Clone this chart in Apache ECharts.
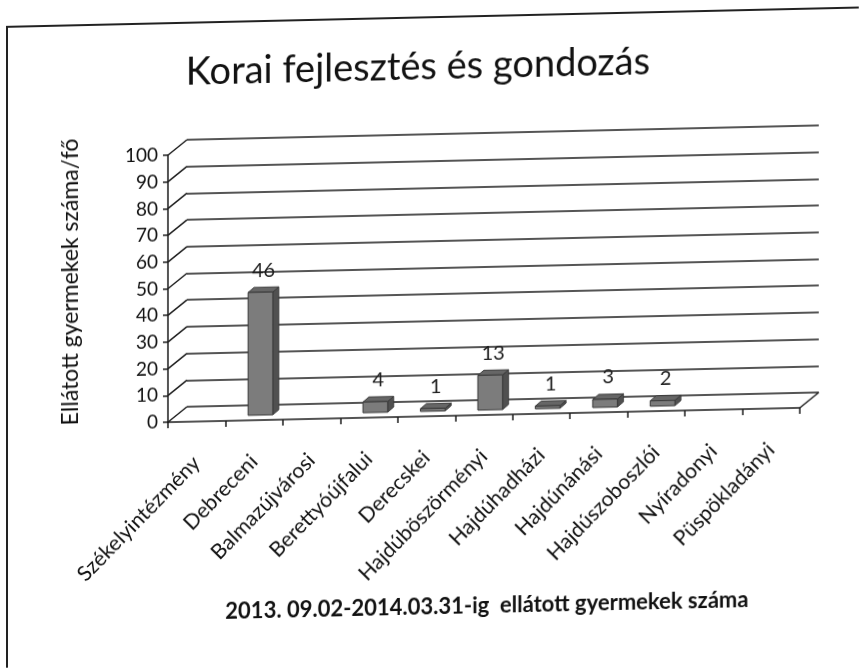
<!DOCTYPE html>
<html>
<head>
<meta charset="utf-8">
<script src="https://cdn.jsdelivr.net/npm/echarts@6/dist/echarts.min.js"></script>
<style>
  html, body { margin: 0; padding: 0; background: #fff; overflow: hidden; }
  #chart {
    width: 859px; height: 668px;
    transform: skewY(-1.3deg);
    transform-origin: 0 0;
  }
</style>
</head>
<body>
<div id="chart"></div>
<script>
// Categories (service units) and number of children served
const categories = [
  'Székelyintézmény', 'Debreceni', 'Balmazújvárosi', 'Berettyóújfalui',
  'Derecskei', 'Hajdúböszörményi', 'Hajdúhadházi', 'Hajdúnánási',
  'Hajdúszoboszlói', 'Nyíradonyi', 'Püspökladányi'
];
const children = [null, 46, null, 4, 1, 13, 1, 3, 2, null, null];
const yTicks = [0, 10, 20, 30, 40, 50, 60, 70, 80, 90, 100];

const titleText = 'Korai fejlesztés és gondozás';
const subtitleText = '2013. 09.02-2014.03.31-ig  ellátott gyermekek száma';
const yName = 'Ellátott gyermekek száma/fő';

const FONT = 'Lato, "Open Sans", sans-serif';
const INK = '#1c1c1c';

// depth of the 3D floor / back wall
const WALL_DX = 19, WALL_DY = -15;

const chart = echarts.init(document.getElementById('chart'), null, { renderer: 'canvas' });

function renderBar(params, api) {
  const idx = api.value(0);
  const v = api.value(1);
  if (v == null || isNaN(v)) return null;
  const base = api.coord([idx, 0]);
  const top = api.coord([idx, v]);
  const band = api.size([1, 0])[0];
  const w = band * 0.43;
  // the column stands a third of the way into the floor
  const ox = WALL_DX / 3, oy = WALL_DY / 3;
  const dx = 6, dy = -5;
  const x0 = base[0] - w / 2 + ox, x1 = x0 + w;
  const yb = base[1] + oy, yt = top[1] + oy;
  const stroke = '#3a3a3a';
  return {
    type: 'group',
    children: [
      { type: 'polygon', shape: { points: [[x1, yt], [x1 + dx, yt + dy], [x1 + dx, yb + dy], [x1, yb]] },
        style: { fill: '#505050', stroke: stroke, lineWidth: 1 } },
      { type: 'polygon', shape: { points: [[x0, yt], [x0 + dx, yt + dy], [x1 + dx, yt + dy], [x1, yt]] },
        style: { fill: '#666', stroke: stroke, lineWidth: 1 } },
      { type: 'rect', shape: { x: x0, y: yt, width: w, height: yb - yt },
        style: { fill: '#7c7c7c', stroke: stroke, lineWidth: 1 } },
      { type: 'text', x: (x0 + x1) / 2 + dx / 2, y: yt + dy - 7,
        style: { text: String(v), align: 'center', verticalAlign: 'bottom',
                 font: '20px ' + FONT, fill: INK } }
    ]
  };
}

// diagonal edges joining the front axis to the back wall
function renderEdges(params, api) {
  const v = api.value(0);
  const band = api.size([1, 0])[0];
  const p = api.coord([0, v]);
  const left = p[0] - band / 2;
  const children = [
    { type: 'line', shape: { x1: left, y1: p[1], x2: left + WALL_DX, y2: p[1] + WALL_DY },
      style: { stroke: INK, lineWidth: 1.5 } }
  ];
  if (v === 0) {
    const r = api.coord([categories.length - 1, 0])[0] + band / 2;
    children.push({ type: 'line', shape: { x1: r, y1: p[1], x2: r + WALL_DX, y2: p[1] + WALL_DY },
      style: { stroke: INK, lineWidth: 1.5 } });
  }
  return { type: 'group', children };
}

const frontGrid = { left: 168, right: 59, top: 159, bottom: 242 };
const backGrid = {
  left: frontGrid.left + WALL_DX, right: frontGrid.right - WALL_DX,
  top: frontGrid.top + WALL_DY, bottom: frontGrid.bottom - WALL_DY
};

chart.setOption({
  animation: false,
  backgroundColor: '#fff',
  title: [
    { text: titleText, left: 413, top: 53, textAlign: 'center',
      textStyle: { fontFamily: FONT, fontSize: 38, fontWeight: 'normal', color: '#111' } },
    { text: subtitleText, left: 482, top: 601, textAlign: 'center',
      textStyle: { fontFamily: FONT, fontSize: 22, fontWeight: 'bold', color: '#111' } }
  ],
  graphic: [
    { type: 'rect', shape: { x: 7, y: 27, width: 900, height: 700 },
      style: { fill: 'none', stroke: '#222', lineWidth: 2 }, silent: true }
  ],
  grid: [
    Object.assign({ containLabel: false }, backGrid),
    Object.assign({ containLabel: false }, frontGrid)
  ],
  xAxis: [
    { gridIndex: 0, type: 'category', data: categories, show: false },
    { gridIndex: 1, type: 'category', data: categories,
      axisLine: { show: true, lineStyle: { color: INK, width: 1.5 } },
      axisTick: { show: true, length: 6, lineStyle: { color: INK, width: 1.5 } },
      axisLabel: { rotate: 45, margin: 38, fontFamily: FONT, fontSize: 21, color: '#111', interval: 0 },
      splitLine: { show: false } }
  ],
  yAxis: [
    { gridIndex: 0, type: 'value', min: 0, max: 100, interval: 10,
      axisLine: { show: false }, axisTick: { show: false }, axisLabel: { show: false },
      splitLine: { show: true, lineStyle: { color: INK, width: 1.5 } } },
    { gridIndex: 1, type: 'value', min: 0, max: 100, interval: 10,
      name: yName, nameLocation: 'middle', nameGap: 86,
      nameTextStyle: { fontFamily: FONT, fontSize: 23, color: '#111', padding: [0, 0, 0, 18] },
      axisLine: { show: true, lineStyle: { color: INK, width: 1.5 } },
      axisTick: { show: true, length: 5, lineStyle: { color: INK, width: 1.5 } },
      axisLabel: { margin: 10, fontFamily: FONT, fontSize: 19, color: '#111' },
      splitLine: { show: false } }
  ],
  series: [
    { type: 'custom', xAxisIndex: 1, yAxisIndex: 1, renderItem: renderEdges,
      data: yTicks.map(t => [t]), silent: true, z: 1 },
    { type: 'custom', xAxisIndex: 1, yAxisIndex: 1, renderItem: renderBar,
      data: children.map((v, i) => [i, v]), z: 5 }
  ]
});
</script>
</body>
</html>
